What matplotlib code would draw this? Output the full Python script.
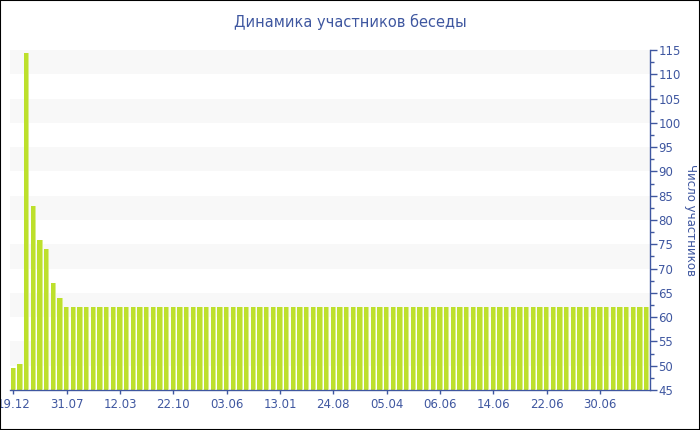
import matplotlib
matplotlib.use("Agg")
import matplotlib.pyplot as plt
import numpy as np
from matplotlib.patches import Rectangle

# data
values = [49.6, 50.3, 114.3, 82.9, 75.9, 74, 67, 64] + [62] * 88
tick_labels = ["19.12", "31.07", "12.03", "22.10", "03.06", "13.01",
               "24.08", "05.04", "06.06", "14.06", "22.06", "30.06"]
tick_step = 8

text_color = "#3f57a0"
bar_color = "#bde02c"
light_color = "#d9ee8c"
band_color = "#f8f8f8"

fig = plt.figure(figsize=(7, 4.3), dpi=100)
ax = fig.add_axes([10 / 700, 40 / 430, 640 / 700, 340 / 430])

# alternating background bands
for lo in range(50, 115, 10):
    ax.axhspan(lo, lo + 5, color=band_color, zorder=0, lw=0)

x = np.arange(len(values))
heights = np.array(values) - 45
ax.bar(x, heights, width=0.84, bottom=45,
       color=bar_color, zorder=2, linewidth=0)
# lighter highlight on the right side of each bar
ax.bar(x + 0.34, heights, width=0.16, bottom=45,
       color=light_color, zorder=3, linewidth=0)

ax.set_xlim(-0.5, len(values) - 0.5)
ax.set_ylim(45, 115)

ax.set_xticks(x[::tick_step][:len(tick_labels)])
ax.set_xticklabels(tick_labels)
ax.set_yticks(np.arange(45, 116, 5))
ax.set_yticks(np.arange(47.5, 115, 5), minor=True)

ax.yaxis.tick_right()
ax.tick_params(axis="y", which="major", length=5, width=1, color=text_color,
               labelcolor=text_color, labelsize=8.5, pad=1)
ax.tick_params(axis="y", which="minor", length=3, width=1, color=text_color)
ax.tick_params(axis="x", length=3, width=1, color=text_color,
               labelcolor=text_color, labelsize=8.5, pad=3)

for side in ["left", "top"]:
    ax.spines[side].set_visible(False)
for side in ["right", "bottom"]:
    ax.spines[side].set_color(text_color)
    ax.spines[side].set_linewidth(1)

fig.text(0.5, 1 - 22 / 430, "Динамика участников беседы", ha="center",
         va="center", fontsize=10.5, color=text_color)
fig.text(690 / 700, 0.5 + (215 - 220) / 430, "Число участников", ha="center",
         va="center", rotation=270, fontsize=8.5, color=text_color)

# outer frame
fig.patches.append(Rectangle((0, 0), 1, 1, transform=fig.transFigure,
                             fill=False, edgecolor="black", linewidth=1.5))

fig.savefig("out.png", dpi=100)
